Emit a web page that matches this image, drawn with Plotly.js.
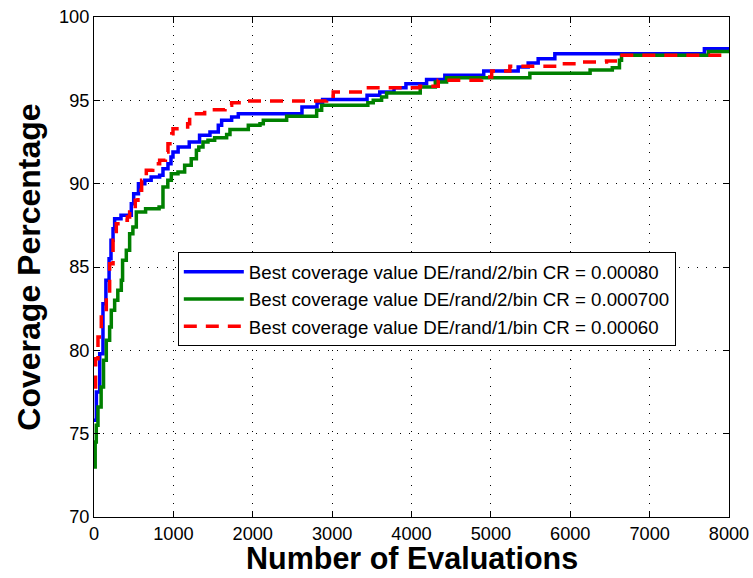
<!DOCTYPE html>
<html>
<head>
<meta charset="utf-8">
<script src="https://cdn.plot.ly/plotly-3.0.1.min.js"></script>
<style>html,body{margin:0;padding:0;background:#fff;}#chart{width:753px;height:578px;}</style>
</head>
<body>
<div id="chart"></div>
<script>
// Blue: DE/rand/2/bin CR = 0.00080 (step starts)
const blueX = [0,30,72,113,150,190,214,240,260,340,470,500,560,640,720,827,869,932,970,995,1060,1200,1330,1461,1566,1608,1734,1818,2620,2810,2880,3440,3600,3780,3930,4190,4420,4910,5344,5470,5596,5806,7690,8000];
const blueY = [75.8,77.5,79.8,82.8,84.2,85.5,86.6,87.3,87.9,88.1,88.8,89.4,90.0,90.2,90.4,90.5,90.9,91.2,91.6,91.9,92.2,92.5,92.9,93.1,93.5,93.8,94.0,94.2,94.6,94.85,95.05,95.3,95.5,95.75,96.0,96.25,96.5,96.76,97.0,97.24,97.5,97.8,98.1,98.1];

// Green: DE/rand/2/bin CR = 0.000700
const greenX = [0,15,29,50,90,120,155,197,218,260,300,344,360,407,449,490,533,650,820,869,930,974,1058,1142,1225,1290,1320,1373,1436,1520,1671,1713,1944,2091,2133,2427,2805,2868,3450,3518,3623,3686,4110,4300,4442,5491,6250,6530,6620,6646,7740,8000];
const greenY = [73.0,74.5,75.5,76.6,77.8,79.4,80.6,81.4,82.4,83.0,83.6,84.2,85.4,86.0,87.0,87.4,88.3,88.5,88.6,89.8,90.2,90.6,90.7,91.1,91.5,92.0,92.2,92.5,92.6,92.75,92.95,93.25,93.5,93.6,93.8,94.04,94.4,94.7,94.85,95.0,95.2,95.44,95.8,96.1,96.36,96.62,96.82,96.96,97.4,97.7,97.93,97.93];

// Red dashed: DE/rand/1/bin CR = 0.00060
const redX = [0,20,50,92,155,197,240,281,365,420,449,520,554,600,659,740,827,900,932,980,995,1180,1205,1268,1394,1650,1734,1923,2930,3014,3434,4106,4337,4883,5010,5239,5890,6142,6457,6625,8000];
const redY = [77.8,79.5,80.8,82.2,83.4,85.2,86.6,87.6,87.8,88.0,88.3,89.0,89.6,90.2,90.8,91.2,91.4,91.9,92.4,93.0,93.3,93.6,94.0,94.2,94.44,94.7,94.85,94.96,95.24,95.5,95.76,95.84,96.2,96.4,96.76,97.04,97.2,97.3,97.36,97.7,97.7];

const seriesNames = [
  'Best coverage value DE/rand/2/bin CR = 0.00080',
  'Best coverage value DE/rand/2/bin CR = 0.000700',
  'Best coverage value DE/rand/1/bin CR = 0.00060'
];
const xTicks = [0,1000,2000,3000,4000,5000,6000,7000,8000];
const yTicks = [70,75,80,85,90,95,100];
const xTitle = 'Number of Evaluations';
const yTitle = 'Coverage Percentage';

const FONT = 'Arial, "Liberation Sans", sans-serif';

const traces = [
  {x: blueX, y: blueY, name: seriesNames[0], mode: 'lines', line: {color: '#0000ff', width: 3.5, shape: 'hv'}},
  {x: greenX, y: greenY, name: seriesNames[1], mode: 'lines', line: {color: '#008000', width: 3.5, shape: 'hv'}},
  {x: redX, y: redY, name: seriesNames[2], mode: 'lines', line: {color: '#ff0000', width: 3.5, shape: 'hv', dash: '13px,9px'}}
];

const axisCommon = {
  showline: true, linecolor: '#000', linewidth: 1, mirror: 'ticks',
  ticks: 'inside', ticklen: 6, tickcolor: '#000', tickwidth: 1,
  showgrid: true, gridcolor: '#000', gridwidth: 1, griddash: '1px,8px',
  zeroline: false, tickfont: {family: FONT, size: 18.2, color: '#000'}
};

const layout = {
  width: 753, height: 578,
  margin: {l: 94, r: 24, t: 17, b: 61},
  paper_bgcolor: '#fff', plot_bgcolor: '#fff',
  font: {family: FONT, color: '#000'},
  xaxis: Object.assign({}, axisCommon, {
    range: [0, 8000], tickvals: xTicks, ticktext: xTicks.map(String)
  }),
  yaxis: Object.assign({}, axisCommon, {
    range: [70, 100], tickvals: yTicks, ticktext: yTicks.map(String),
    title: {text: '<b>' + yTitle + '</b>', font: {family: FONT, size: 32, color: '#000'}, standoff: 8}
  }),
  annotations: [{
    text: '<b>' + xTitle + '</b>', xref: 'paper', yref: 'paper', x: 0.5, y: 0,
    xanchor: 'center', yanchor: 'top', yshift: -23, showarrow: false, borderpad: 0,
    font: {family: FONT, size: 30.5, color: '#000'}
  }],
  showlegend: true,
  legend: {
    x: 0.132, y: 0.53, xanchor: 'left', yanchor: 'top',
    bgcolor: '#fff', bordercolor: '#000', borderwidth: 1,
    font: {family: FONT, size: 18.7, color: '#000'},
    itemwidth: 60
  }
};

Plotly.newPlot('chart', traces, layout, {displayModeBar: false, staticPlot: true});
</script>
</body>
</html>
